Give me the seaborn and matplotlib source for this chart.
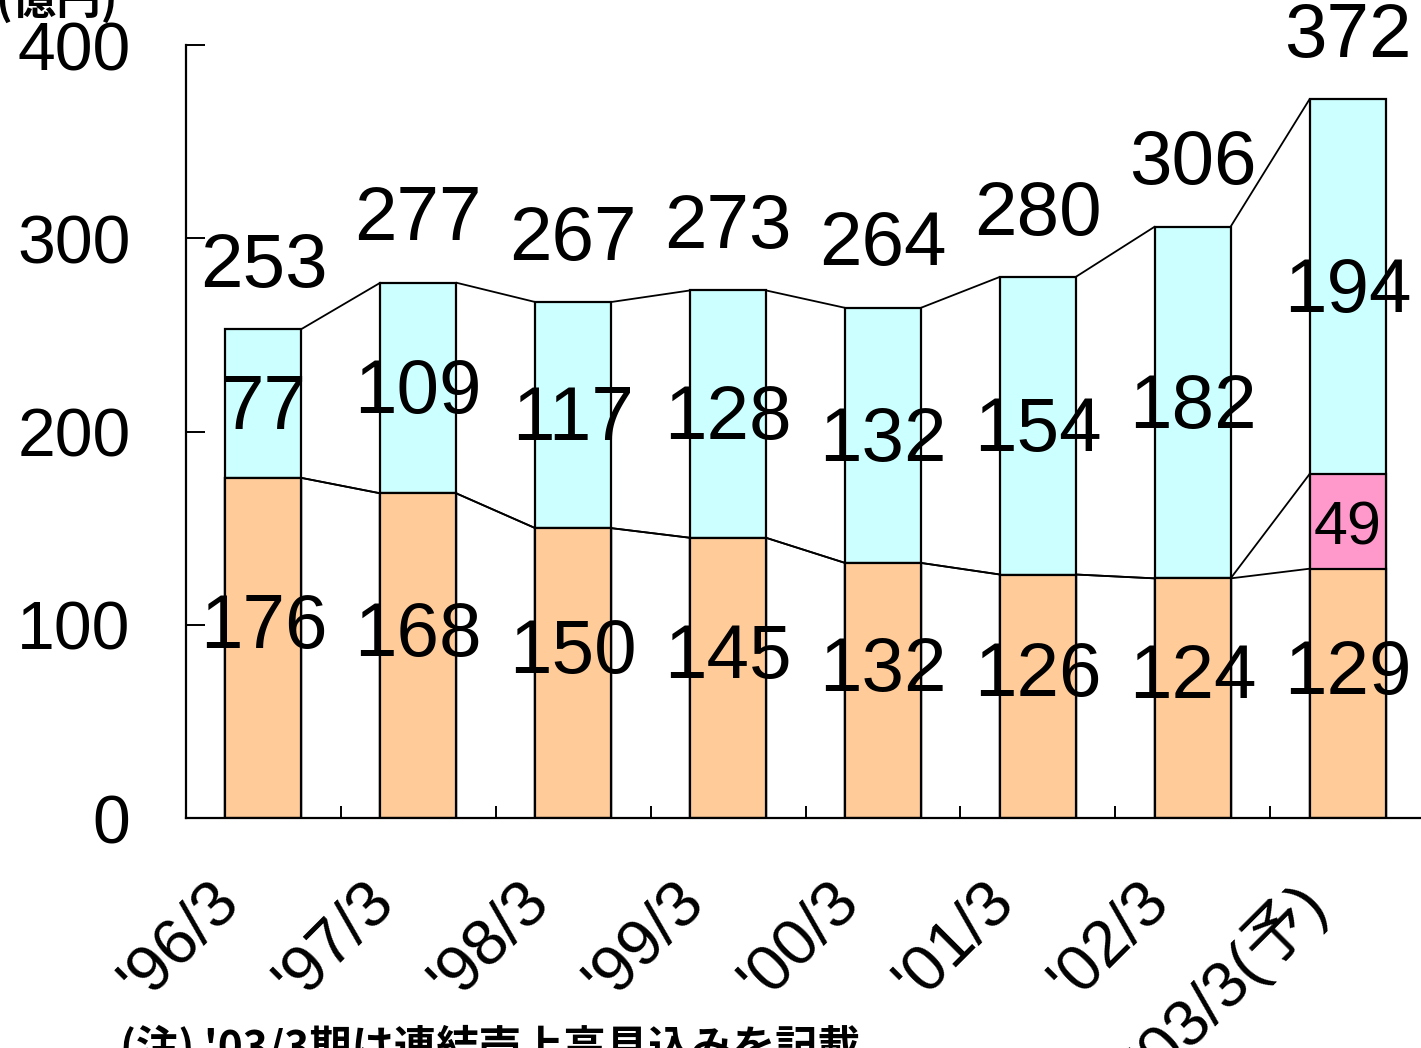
import matplotlib
matplotlib.use("Agg")
import matplotlib.pyplot as plt
import matplotlib.transforms as mtransforms
import seaborn as sns
import pandas as pd
import numpy as np

# ---- data ----
periods = ["'96/3", "'97/3", "'98/3", "'99/3", "'00/3", "'01/3", "'02/3", "'03/3(予)"]
orange_vals = [176, 168, 150, 145, 132, 126, 124, 129]
pink_vals = [0, 0, 0, 0, 0, 0, 0, 49]
cyan_vals = [77, 109, 117, 128, 132, 154, 182, 194]
y_ticks = [0, 100, 200, 300, 400]
unit_label = "(億円)"
note_text = "(注) '03/3期は連結売上高見込みを記載"

sns.set_theme(style="white")
plt.rcParams["font.family"] = ["Liberation Sans", "Noto Sans CJK JP", "DejaVu Sans"]
plt.rcParams["text.color"] = "black"
plt.rcParams["xtick.color"] = "black"
plt.rcParams["ytick.color"] = "black"

orange = np.array(orange_vals)
pink = np.array(pink_vals)
cyan = np.array(cyan_vals)
mid = orange + pink
total = mid + cyan

df = pd.DataFrame({"period": periods, "orange": orange, "mid": mid, "total": total})

fig = plt.figure(figsize=(14.21, 10.48), dpi=100)
ax = fig.add_axes([186 / 1421, 230 / 1048, (1425 - 186) / 1421, 773 / 1048])

W = 0.49
common = dict(edgecolor="black", linewidth=1.6, width=W, ax=ax, order=periods, saturation=1)
sns.barplot(data=df, x="period", y="total", color="#CCFFFF", **common)
sns.barplot(data=df, x="period", y="mid", color="#FF99CC", **common)
sns.barplot(data=df, x="period", y="orange", color="#FFCC99", **common)

# connector lines
n = len(periods)
for i in range(n - 1):
    for a, b in [(total[i], total[i + 1]), (orange[i], orange[i + 1]), (mid[i], mid[i + 1])]:
        ax.plot([i + W / 2, i + 1 - W / 2], [a, b], color="black", lw=1.3, zorder=3)

# labels
FS = 55
for i in range(n):
    ax.text(i, total[i] + 32, str(total[i]), ha="center", va="center", fontsize=FS,
            color="black", zorder=5, clip_on=False)
    ax.text(i, mid[i] + cyan[i] / 2 - 3, str(cyan[i]), ha="center", va="center",
            fontsize=FS, color="black", zorder=5)
    ax.text(i, orange[i] / 2 + 10, str(orange[i]), ha="center", va="center",
            fontsize=FS, color="black", zorder=5)
    if pink[i] > 0:
        ax.text(i, orange[i] + pink[i] / 2 - 4, str(pink[i]), ha="center", va="center",
                fontsize=FS * 0.8, color="black", zorder=5)

ax.set_xlim(-0.5, n - 0.5)
ax.set_ylim(0, 400)
ax.set_yticks(y_ticks)
ax.set_yticklabels([str(v) for v in y_ticks], fontsize=49)
ax.tick_params(axis="y", direction="in", length=14, width=1.4, pad=40, left=True)
ax.set_xticks(range(n))
ax.set_xticklabels(periods, fontsize=47, rotation=45, ha="right", rotation_mode="anchor")
ax.tick_params(axis="x", length=0, pad=38)
ax.set_xticks(np.arange(-0.5, n, 1.0), minor=True)
ax.tick_params(axis="x", which="minor", direction="in", length=9, width=1.4, bottom=True)
offset = mtransforms.ScaledTranslation(-0.55, 0, fig.dpi_scale_trans)
for lbl in ax.get_xticklabels():
    lbl.set_transform(lbl.get_transform() + offset)

ax.set_xlabel("")
ax.set_ylabel("")
for s in ["top", "right"]:
    ax.spines[s].set_visible(False)
for s in ["left", "bottom"]:
    ax.spines[s].set_color("black")
    ax.spines[s].set_linewidth(1.6)

fig.text(118 / 1421, 1 - 24 / 1048, unit_label, ha="right", va="bottom", fontsize=32,
         fontweight="bold", family=["Noto Sans CJK JP", "Liberation Sans"])
fig.text(120 / 1421, 1 - 1025 / 1048, note_text, ha="left", va="top", fontsize=30.5,
         fontweight="bold", family=["Noto Sans CJK JP", "Liberation Sans"])

fig.savefig("out.png", dpi=100)
